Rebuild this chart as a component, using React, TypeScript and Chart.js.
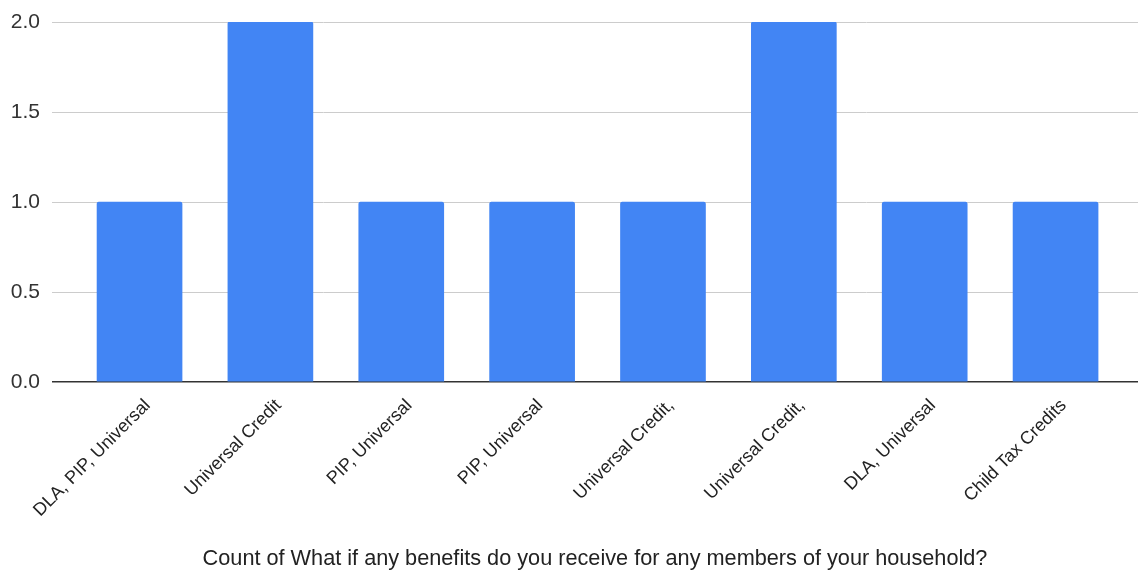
import React, { useEffect, useRef } from "react";
import { Chart, registerables } from "chart.js";

Chart.register(...registerables);

const categories = [
  "DLA, PIP, Universal",
  "Universal Credit",
  "PIP, Universal",
  "PIP, Universal",
  "Universal Credit,",
  "Universal Credit,",
  "DLA, Universal",
  "Child Tax Credits",
];
const counts = [1, 2, 1, 1, 1, 2, 1, 1];
const yTicks = [0, 0.5, 1, 1.5, 2];
const axisTitle = "Count of What if any benefits do you receive for any members of your household?";

export default function App() {
  const ref = useRef<HTMLCanvasElement | null>(null);
  useEffect(() => {
    if (!ref.current) return;
    const chart = new Chart(ref.current, {
      type: "bar",
      data: {
        datasets: [
          {
            data: counts.map((v, i) => ({ x: i, y: v })),
            backgroundColor: "#4285F4",
            borderRadius: { topLeft: 2, topRight: 2, bottomLeft: 0, bottomRight: 0 },
            borderSkipped: "bottom",
            barThickness: 85,
          },
        ],
      },
      options: {
        animation: false,
        responsive: true,
        maintainAspectRatio: false,
        layout: { padding: { top: 22, right: 0, left: 0, bottom: 0 } },
        plugins: { legend: { display: false }, tooltip: { enabled: false } },
        scales: {
          x: {
            type: "linear",
            min: -0.669,
            max: 7.63,
            offset: false,
            grid: { display: false, drawTicks: false },
            border: { display: false },
            afterBuildTicks: (scale: any) => {
              scale.ticks = categories.map((_, i) => ({ value: i }));
            },
            afterFit: (scale: any) => {
              scale.height = 194;
              scale.paddingLeft = 0;
              scale.paddingRight = 0;
            },
            ticks: {
              autoSkip: false,
              maxRotation: 45,
              minRotation: 45,
              padding: 13,
              labelOffset: 8,
              color: "#222",
              font: { family: "Liberation Sans", size: 18 },
              callback: (_v: any, i: number) => categories[i],
            },
            title: {
              display: true,
              text: axisTitle,
              color: "#222",
              font: { family: "Liberation Sans", size: 21.7 },
              padding: { top: 4, bottom: 4 },
            },
          },
          y: {
            min: 0,
            max: 2,
            afterBuildTicks: (scale: any) => {
              scale.ticks = yTicks.map((v) => ({ value: v }));
            },
            afterFit: (scale: any) => {
              scale.width = 52;
              scale.paddingTop = 0;
              scale.paddingBottom = 0;
            },
            border: { display: false },
            grid: {
              drawTicks: false,
              color: (ctx: any) => (ctx.tick && ctx.tick.value === 0 ? "#333" : "#cccccc"),
              lineWidth: (ctx: any) => (ctx.tick && ctx.tick.value === 0 ? 1.5 : 1),
            },
            ticks: {
              padding: 12,
              color: "#333",
              font: { family: "Liberation Sans", size: 21 },
              callback: (v: any) => Number(v).toFixed(1),
            },
          },
        },
      },
    });
    return () => chart.destroy();
  }, []);
  return (
    <div style={{ position: "absolute", left: 0, top: 0, width: 1138, height: 576 }}>
      <canvas ref={ref} />
    </div>
  );
}
